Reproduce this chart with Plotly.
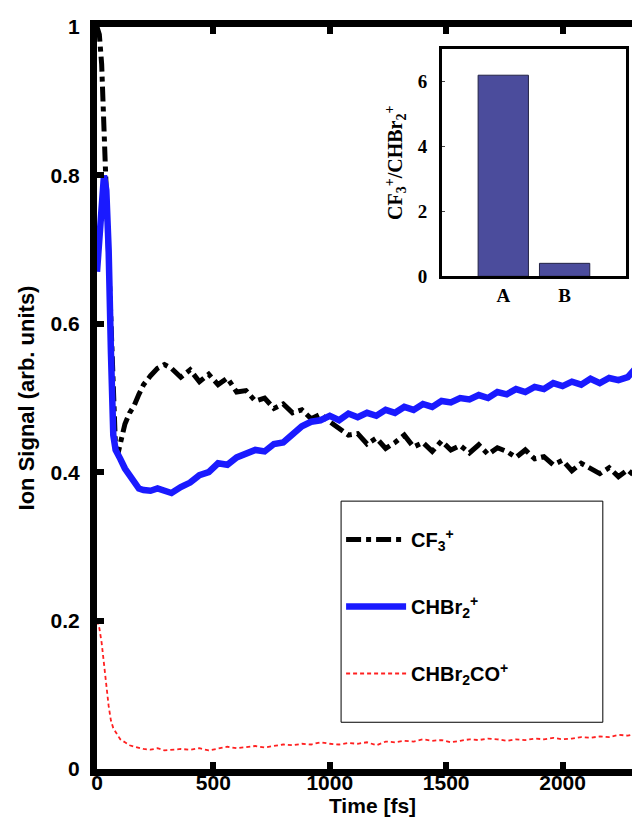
import plotly.graph_objects as go

# ---- data ----
time_fs = [0, 10, 20, 30, 40, 50, 60, 70, 80, 90, 100, 120, 140, 160, 180, 200, 230, 260, 290,
           320, 360, 400, 440, 480, 520, 560, 600, 640, 680, 720, 760, 800, 840, 880, 920, 960,
           1000, 1040, 1080, 1120, 1160, 1200, 1240, 1280, 1320, 1360, 1400, 1440, 1480, 1520,
           1560, 1600, 1640, 1680, 1720, 1760, 1800, 1840, 1880, 1920, 1960, 2000, 2040, 2080,
           2120, 2160, 2200, 2240, 2280, 2320, 2360, 2400]

cf3 = [1.0, 0.99, 0.95, 0.86, 0.78, 0.68, 0.58, 0.48, 0.43, 0.425, 0.44, 0.465, 0.48, 0.49, 0.505,
       0.518, 0.53, 0.54, 0.545,
       0.54, 0.528, 0.538, 0.522, 0.532, 0.518, 0.527, 0.508, 0.51, 0.496, 0.5, 0.486, 0.492, 0.48,
       0.484, 0.472, 0.478, 0.468, 0.458, 0.45, 0.452, 0.438, 0.446, 0.432, 0.44, 0.45, 0.434, 0.44,
       0.428, 0.442, 0.43, 0.436, 0.426, 0.437, 0.424, 0.433, 0.428, 0.42, 0.43, 0.418, 0.421, 0.41,
       0.416, 0.402, 0.412, 0.404, 0.398, 0.406, 0.394, 0.403, 0.392, 0.4, 0.396]

chbr2 = [0.67, 0.72, 0.77, 0.80, 0.78, 0.70, 0.56, 0.45, 0.43, 0.425, 0.418, 0.405, 0.395, 0.384,
         0.378, 0.376, 0.375, 0.378, 0.374,
         0.372, 0.38, 0.386, 0.396, 0.4, 0.412, 0.41, 0.42, 0.424, 0.43, 0.428, 0.438, 0.44, 0.452,
         0.462, 0.468, 0.47, 0.476, 0.47, 0.479, 0.474, 0.48, 0.476, 0.484, 0.48, 0.488, 0.484,
         0.492, 0.488, 0.496, 0.494, 0.5, 0.498, 0.504, 0.5, 0.508, 0.505, 0.512, 0.508, 0.515,
         0.512, 0.52, 0.516, 0.522, 0.518, 0.526, 0.52, 0.527, 0.524, 0.528, 0.542, 0.526, 0.52]

chbr2co = [0.2, 0.19, 0.17, 0.14, 0.11, 0.085, 0.065, 0.055, 0.05, 0.045, 0.04, 0.036, 0.032, 0.03,
           0.028, 0.027, 0.026, 0.028, 0.025,
           0.026, 0.027, 0.026, 0.028, 0.025, 0.027, 0.03, 0.028, 0.03, 0.031, 0.029, 0.031, 0.033,
           0.032, 0.034, 0.033, 0.036, 0.034, 0.033, 0.035, 0.034, 0.036, 0.032, 0.037, 0.036, 0.038,
           0.037, 0.04, 0.038, 0.039, 0.036, 0.038, 0.04, 0.039, 0.041, 0.04, 0.038, 0.04, 0.039,
           0.041, 0.04, 0.042, 0.04, 0.041, 0.043, 0.042, 0.044, 0.043, 0.046, 0.045, 0.048, 0.047,
           0.046]

inset_categories = ["A", "B"]
inset_ratio = [6.2, 0.4]

x_ticks = [0, 500, 1000, 1500, 2000]
y_ticks = [0, 0.2, 0.4, 0.6, 0.8, 1]
y_ticklabels = ["0", "0.2", "0.4", "0.6", "0.8", "1"]
inset_yticks = [0, 2, 4, 6]

SANS = "Liberation Sans"
SERIF = "Liberation Serif"

fig = go.Figure()
fig.add_trace(go.Scatter(x=time_fs, y=cf3, mode="lines", name="CF<sub>3</sub><sup>+</sup>",
                         legendgroup="g1",
                         line=dict(color="black", width=5, dash="dashdot")))
fig.add_trace(go.Scatter(x=time_fs, y=chbr2, mode="lines", name="CHBr<sub>2</sub><sup>+</sup>",
                         legendgroup="g2",
                         line=dict(color="#1a1aff", width=6.5)))
fig.add_trace(go.Scatter(x=time_fs, y=chbr2co, mode="lines", name="CHBr<sub>2</sub>CO<sup>+</sup>",
                         legendgroup="g3",
                         line=dict(color="#ff2020", width=1.8, dash="4px,3px")))
# right-side ticks (no line), matching the cropped right frame
fig.add_trace(go.Scatter(x=[None], y=[None], yaxis="y2", showlegend=False, hoverinfo="skip"))

fig.add_trace(go.Bar(x=inset_categories, y=inset_ratio, xaxis="x2", yaxis="y3", width=0.82,
                     showlegend=False,
                     marker=dict(color="#4b4c9c", line=dict(color="#222244", width=1))))

fig.update_layout(
    width=640, height=825,
    margin=dict(l=89, r=0, t=19, b=64, autoexpand=False),
    plot_bgcolor="white", paper_bgcolor="white",
    font=dict(family=SANS, size=21, color="black", weight="bold"),
    xaxis=dict(range=[0, 2367], domain=[0, 1], tickvals=x_ticks, ticks="inside", ticklen=7,
               tickwidth=6, tickcolor="black", showline=True, linewidth=7, linecolor="black",
               mirror="ticks", showgrid=False, zeroline=False, automargin=False,
               ticklabelstandoff=-11,
               tickfont=dict(family=SANS, size=21, weight="bold"),
               title=dict(text="Time [fs]", font=dict(family=SANS, size=21, weight="bold"), standoff=0)),
    yaxis=dict(range=[0, 1], tickvals=y_ticks, ticktext=y_ticklabels, ticks="inside", ticklen=7,
               tickwidth=6, tickcolor="black", showline=True, linewidth=7, linecolor="black",
               showgrid=False, zeroline=False, automargin=False, ticklabelstandoff=6,
               tickfont=dict(family=SANS, size=21, weight="bold"),
               title=dict(text="Ion Signal (arb. units)", font=dict(family=SANS, size=22, weight="bold"),
                          standoff=12)),
    yaxis2=dict(range=[0, 1], overlaying="y", side="right", tickvals=y_ticks, ticks="inside",
                ticklen=4, tickwidth=6, tickcolor="black", showticklabels=False, showline=False,
                showgrid=False, zeroline=False, automargin=False),
    xaxis2=dict(domain=[0.626, 0.960], anchor="y3", range=[-1, 2], type="category",
                showline=True, linewidth=3, linecolor="black", mirror=True, ticks="",
                showgrid=False, automargin=False,
                tickfont=dict(family=SERIF, size=19, weight="bold")),
    yaxis3=dict(domain=[0.664, 0.970], anchor="x2", range=[0, 7], tickvals=inset_yticks,
                showline=True, linewidth=3, linecolor="black", mirror=True, ticks="inside",
                ticklen=3, tickwidth=1, showgrid=False, zeroline=False, automargin=False,
                ticklabelstandoff=8,
                tickfont=dict(family=SERIF, size=19, weight="bold"),
                title=dict(text="CF<sub>3</sub><sup>+</sup>/CHBr<sub>2</sub><sup>+</sup>",
                           font=dict(family=SERIF, size=20, weight="bold"), standoff=10)),
    legend=dict(x=0.443, y=0.3356, xanchor="left", yanchor="top", bgcolor="rgba(0,0,0,0)",
                borderwidth=0, tracegroupgap=38, itemwidth=60,
                font=dict(family=SANS, size=20, weight="bold")),
    shapes=[dict(type="rect", xref="paper", yref="paper", x0=0.443, x1=0.918, y0=0.063, y1=0.361,
                 line=dict(color="black", width=1), fillcolor="white", layer="above")],
    bargap=0.18,
)

fig.write_html("out.html")
